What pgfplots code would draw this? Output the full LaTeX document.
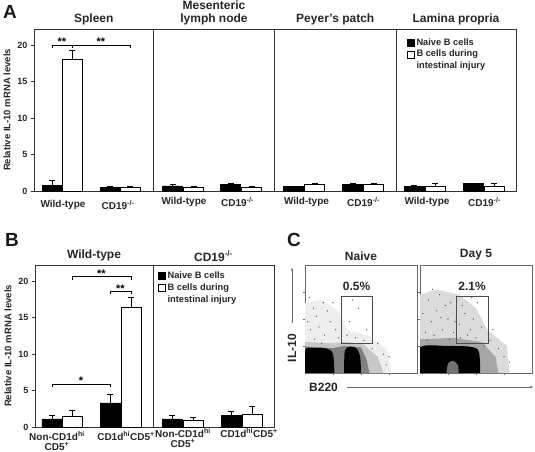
\documentclass[border=0pt]{standalone}
\usepackage{fontspec}
\setmainfont{Liberation Sans}
\usepackage{pgfplots}
\pgfplotsset{compat=1.18}
\usetikzlibrary{arrows.meta}

\newcommand\fTitle{\fontsize{12}{13.5}\selectfont\bfseries}
\newcommand\fX{\fontsize{10}{10}\selectfont\bfseries}
\newcommand\fTick{\fontsize{9}{10}\selectfont\bfseries}
\newcommand\fStar{\fontsize{11}{11}\selectfont\bfseries}
\newcommand\fY{\fontsize{9.5}{10}\selectfont\bfseries}
\newcommand\fLeg{\fontsize{9.3}{10}\selectfont\bfseries}
\newcommand\fPanel{\fontsize{19}{20}\selectfont\bfseries}

\pgfplotsset{
  barax/.style={scale only axis, height=162pt, ymin=0, ymax=22.2,
    axis line style={black!80, line width=0.7pt}, ytick=\empty,
    xtick style={draw=none}, xticklabel style={font=\fX, text=black!85, align=center, yshift=-3pt},
    title style={font=\fTitle, text=black!85, align=center, yshift=-6pt}},
  yax/.style={ytick={0,5,10,15,20}, yticklabels={0,5,10,15,20},
    yticklabel style={font=\fTick, text=black!85}, tick align=outside, ytick pos=left,
    major tick length=3pt, ytick style={black!80, line width=0.6pt},
    ylabel={Relative IL-10 mRNA levels}, ylabel style={font=\fY, text=black!85}},
  nb/.style={ybar, bar width=20, bar shift=0pt, fill=black, draw=black, line width=0.6pt,
    error bars/y dir=plus, error bars/y explicit,
    error bars/error bar style={black, line width=0.6pt},
    error bars/error mark options={black, line width=0.6pt, mark size=3pt, rotate=90}},
  ib/.style={nb, fill=white},
  brk/.style={black, line width=0.6pt, no marks},
  leg/.style={legend cell align=left,
    legend style={draw=none, fill=none, font=\fLeg, inner sep=0pt, row sep=-0.5pt,
      text=black!85, cells={anchor=west}}},
  facs/.style={scale only axis, width=112pt, height=108pt, xmin=0, xmax=4, ymin=0, ymax=4,
    xtick={1,2,3}, ytick={1,2,3}, xticklabels={}, yticklabels={},
    tick align=outside, major tick length=2pt, xtick pos=bottom, ytick pos=left,
    axis line style={black!60, line width=0.6pt}, tick style={black!60, line width=0.5pt},
    title style={font=\fTitle, text=black!85, yshift=-5pt}},
  blk/.style={legend image code/.code={\draw[fill=black, draw=black, line width=0.5pt] (0pt,-3.5pt) rectangle (7pt,3.5pt);}},
  wht/.style={legend image code/.code={\draw[fill=white, draw=black, line width=0.5pt] (0pt,-3.5pt) rectangle (7pt,3.5pt);}},
}

\begin{document}
\begin{tikzpicture}
\path[use as bounding box] (0pt,0pt) rectangle (535pt,451pt);

% ---------- A ----------
\begin{axis}[barax, yax, at={(34pt,260pt)}, anchor=south west, width=119.5pt, xmin=0, xmax=119.5,
  xtick={29,84}, xticklabels={Wild-type,CD19\textsuperscript{-/-}}, title={Spleen}]
  \addplot[nb] coordinates {(18,0.8) +- (0,0.7) (76,0.5) +- (0,0.2)};
  \addplot[ib] coordinates {(38,18.0) +- (0,1.3) (96,0.5) +- (0,0.2)};
  \addplot[brk] coordinates {(18,19.6) (18,20) (38,20) (38,19.6)};
  \addplot[brk] coordinates {(38,19.6) (38,20) (96,20) (96,19.6)};
  \node[font=\fStar, anchor=south, inner sep=0.5pt] at (axis cs:28,19.8) {**};
  \node[font=\fStar, anchor=south, inner sep=0.5pt] at (axis cs:67,19.8) {**};
\end{axis}

\begin{axis}[barax, at={(153.5pt,260pt)}, anchor=south west, width=121pt, xmin=0, xmax=121,
  xtick={30.5,84}, xticklabels={Wild-type,CD19\textsuperscript{-/-}}, title={Mesenteric\\lymph node}]
  \addplot[nb] coordinates {(19,0.7) +- (0,0.25) (77,0.9) +- (0,0.2)};
  \addplot[ib] coordinates {(40,0.5) +- (0,0.1) (98,0.45) +- (0,0.2)};
\end{axis}

\begin{axis}[barax, at={(274.5pt,260pt)}, anchor=south west, width=121.5pt, xmin=0, xmax=121.5,
  xtick={32,89}, xticklabels={Wild-type,CD19\textsuperscript{-/-}}, title={Peyer's patch}]
  \addplot[nb] coordinates {(19,0.6) +- (0,0.1) (78,0.95) +- (0,0.1)};
  \addplot[ib] coordinates {(40,0.95) +- (0,0.1) (99,0.95) +- (0,0.1)};
\end{axis}

\begin{axis}[barax, leg, at={(396pt,260pt)}, anchor=south west, width=120pt, xmin=0, xmax=120,
  xtick={31,88.5}, xticklabels={Wild-type,CD19\textsuperscript{-/-}}, title={Lamina propria},
  legend style={at={(0.09,0.955)}, anchor=north west}]
  \addlegendimage{blk}
  \addlegendimage{wht}
  \addlegendimage{empty legend}
  \addplot[nb] coordinates {(18,0.6) +- (0,0.15) (77,1.0) +- (0,0.1)};
  \addplot[ib] coordinates {(39,0.7) +- (0,0.4) (98,0.7) +- (0,0.4)};
  \legend{Naive B cells,B cells during,intestinal injury}
\end{axis}

% ---------- B ----------
\begin{axis}[barax, yax, at={(35pt,24pt)}, anchor=south west, width=118pt, xmin=0, xmax=118,
  xtick={22,91}, xticklabel style={yshift=5pt},
  xticklabels={{Non-CD1d\textsuperscript{hi}\\CD5\textsuperscript{+}},CD1d\textsuperscript{hi}CD5\textsuperscript{+}},
  title={Wild-type}]
  \addplot[nb] coordinates {(17,1.1) +- (0,0.45) (75,3.3) +- (0,1.15)};
  \addplot[ib] coordinates {(37,1.5) +- (0,0.8) (96,16.4) +- (0,1.4)};
  \addplot[brk] coordinates {(17,5.5) (17,5.9) (75,5.9) (75,5.5)};
  \addplot[brk] coordinates {(37,20.2) (37,20.6) (96,20.6) (96,20.2)};
  \addplot[brk] coordinates {(75,18.2) (75,18.6) (96,18.6) (96,18.2)};
  \node[font=\fStar, anchor=south, inner sep=0.5pt] at (axis cs:46,5.7) {*};
  \node[font=\fStar, anchor=south, inner sep=0.5pt] at (axis cs:66.5,20.4) {**};
  \node[font=\fStar, anchor=south, inner sep=0.5pt] at (axis cs:85.5,18.4) {**};
\end{axis}

\begin{axis}[barax, leg, at={(153pt,24pt)}, anchor=south west, width=121pt, xmin=0, xmax=121,
  xtick={30,96}, xticklabel style={yshift=5pt},
  xticklabels={{Non-CD1d\textsuperscript{hi}\\CD5\textsuperscript{+}},CD1d\textsuperscript{hi}CD5\textsuperscript{+}},
  title={CD19\textsuperscript{-/-}}, legend style={at={(0.04,0.97)}, anchor=north west}]
  \addlegendimage{blk}
  \addlegendimage{wht}
  \addlegendimage{empty legend}
  \addplot[nb] coordinates {(19,1.1) +- (0,0.45) (78,1.55) +- (0,0.65)};
  \addplot[ib] coordinates {(40,0.9) +- (0,0.37) (99,1.8) +- (0,1.0)};
  \legend{Naive B cells,B cells during,intestinal injury}
\end{axis}

% ---------- C ----------
\begin{axis}[facs, at={(305pt,78pt)}, anchor=south west, title={Naive}]
  \addplot[fill=black!7, draw=none] coordinates {(0,0) (0,2.6) (0.6,2.7) (1.2,2.3) (1.5,1.6) (2.3,1.35) (2.9,0.9) (3.1,0)} -- cycle;
  \addplot[fill=black!22, draw=none] coordinates {(0,0) (0,1.15) (1.0,1.1) (1.5,1.15) (2.1,1.05) (2.6,0.6) (2.8,0)} -- cycle;
  \addplot[fill=black!50, draw=none] coordinates {(0,0) (0,0.98) (1.0,0.92) (1.4,1.0) (2.0,0.95) (2.2,0.5) (2.3,0)} -- cycle;
  \addplot[fill=black, draw=none, smooth] coordinates {(0,0) (0,0.85) (0.3,0.93) (0.8,0.9) (1.0,0.7) (1.05,0)} -- cycle;
  \addplot[fill=black, draw=none, smooth] coordinates {(1.4,0) (1.42,0.8) (1.6,0.98) (1.85,0.9) (1.97,0.6) (2.0,0)} -- cycle;
  \addplot[only marks, mark=*, mark size=0.35pt, black!70] coordinates {
    (0.2,1.6) (0.4,2.1) (0.7,1.4) (0.9,1.9) (0.3,2.4) (1.1,1.6) (1.3,2.2) (0.6,1.1)
    (1.5,1.4) (1.8,1.3) (2.1,1.2) (2.4,0.9) (2.6,1.1) (2.8,0.7) (0.1,1.9) (0.5,1.7)
    (0.8,2.3) (1.2,1.3) (1.6,1.9) (1.9,2.4) (0.35,1.25) (1.0,2.6) (2.2,1.6) (3.0,0.6)
    (2.9,0.3) (0.15,2.8) (1.7,2.7) (0.65,2.6)};
  \addplot[black!70, line width=0.5pt, no marks] coordinates {(1.29,1.11) (1.29,2.85) (2.39,2.85) (2.39,1.11)} -- cycle;
  \node[font=\fTitle, text=black!85] at (axis cs:1.84,3.2) {0.5\%};
\end{axis}

\begin{axis}[facs, at={(420pt,78pt)}, anchor=south west, title={Day 5}]
  \addplot[fill=black!14, draw=none] coordinates {(0,0) (0,2.9) (0.6,3.1) (1.4,2.9) (2.0,2.4) (2.4,1.6) (3.1,1.0) (3.2,0)} -- cycle;
  \addplot[fill=black!35, draw=none] coordinates {(0,0) (0,1.25) (1.2,1.3) (2.2,1.15) (2.7,0.6) (2.8,0)} -- cycle;
  \addplot[fill=black, draw=none, smooth] coordinates {(0,0) (0,0.95) (1.0,1.0) (1.8,0.97) (2.1,0.8) (2.15,0)} -- cycle;
  \addplot[fill=black!55, draw=none, smooth] coordinates {(0.95,0) (1.0,0.35) (1.18,0.45) (1.35,0.3) (1.38,0)} -- cycle;
  \addplot[only marks, mark=*, mark size=0.35pt, black!70] coordinates {
    (0.2,1.5) (0.4,1.9) (0.6,2.3) (0.8,1.6) (1.0,2.0) (1.2,1.5) (1.4,1.8) (1.6,2.2)
    (1.8,1.6) (2.0,1.3) (0.3,2.7) (0.7,2.9) (1.1,2.6) (1.5,2.5) (1.9,2.0) (2.2,1.7)
    (2.5,1.2) (2.8,0.9) (3.0,0.6) (0.1,2.2) (0.5,1.4) (0.9,2.5) (1.3,2.3) (1.7,1.4)
    (2.3,1.0) (0.45,3.1) (1.45,1.3) (2.05,2.6) (1.25,1.9) (0.75,2.05) (1.85,2.8)
    (2.6,1.6) (3.2,0.4) (0.25,1.2) (1.05,1.25) (1.65,1.1)};
  \addplot[black!70, line width=0.5pt, no marks] coordinates {(1.29,1.11) (1.29,2.85) (2.43,2.85) (2.43,1.11)} -- cycle;
  \node[font=\fTitle, text=black!85] at (axis cs:1.86,3.2) {2.1\%};
\end{axis}

% ---------- labels ----------
\node[font=\fPanel, text=black!90] at (10pt,439pt) {A};
\node[font=\fPanel, text=black!90] at (12pt,211pt) {B};
\node[font=\fPanel, text=black!90] at (294pt,211pt) {C};
\node[font=\fTitle, text=black!85, rotate=90] at (292pt,103pt) {IL-10};
\draw[black!60, line width=0.5pt, -{Stealth[length=3pt, width=2.5pt]}] (292pt,128pt) -- (292pt,183pt);
\node[font=\fTitle, text=black!85, anchor=west, inner sep=0pt] at (309pt,64pt) {B220};
\draw[black!60, line width=0.5pt, -{Stealth[length=3pt, width=2.5pt]}] (347pt,64pt) -- (533pt,64pt);
\end{tikzpicture}
\end{document}
